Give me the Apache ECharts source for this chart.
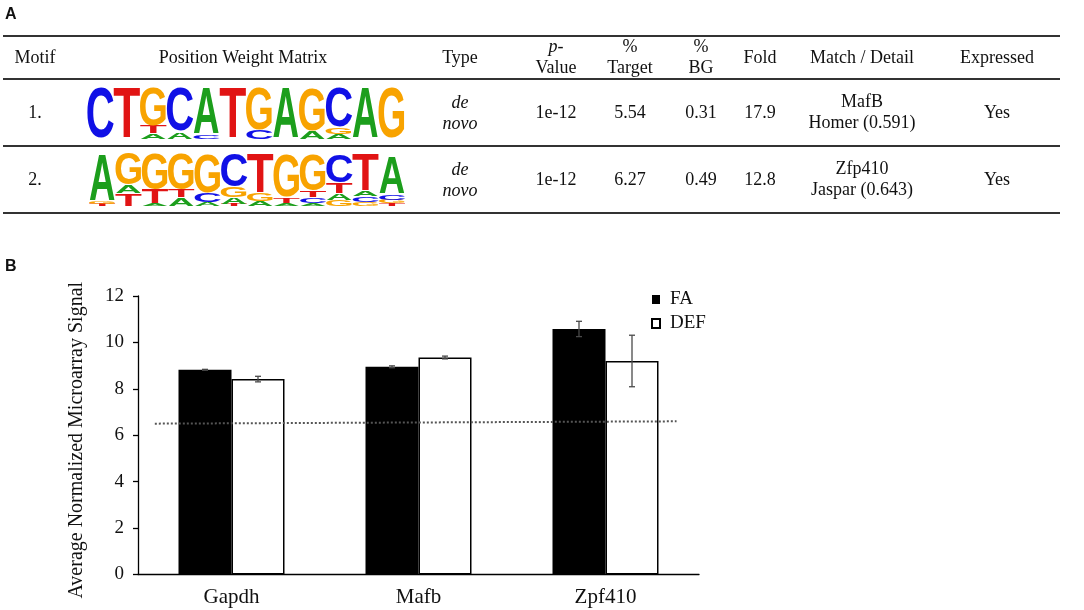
<!DOCTYPE html>
<html>
<head>
<meta charset="utf-8">
<script src="https://cdn.jsdelivr.net/npm/echarts@6/dist/echarts.min.js"></script>
<style>
html, body { margin: 0; padding: 0; background: #fff; }
#main { width: 1084px; height: 610px; }
</style>
</head>
<body>
<div id="main"></div>
<script>
// ---- panel A: motif table ----
var headers = [['Motif'], ['Position Weight Matrix'], ['Type'], ['p-', 'Value'], ['%', 'Target'], ['%', 'BG'], ['Fold'], ['Match / Detail'], ['Expressed']];
var motifNo = ['1.', '2.'];
var motifType = [['de', 'novo'], ['de', 'novo']];
var pValues = ['1e-12', '1e-12'];
var pctTarget = ['5.54', '6.27'];
var pctBG = ['0.31', '0.49'];
var foldEnrich = ['17.9', '12.8'];
var matchName = ['MafB', 'Zfp410'];
var matchDetail = ['Homer (0.591)', 'Jaspar (0.643)'];
var expressed = ['Yes', 'Yes'];

// logo stacks, bottom -> top, letter height as share of column
var logo1 = [
    [['C', 1]],
    [['T', 1]],
    [['A', 0.11], ['T', 0.15], ['G', 0.74]],
    [['A', 0.14], ['C', 0.86]],
    [['C', 0.08], ['A', 0.92]],
    [['T', 1]],
    [['C', 0.18], ['G', 0.82]],
    [['A', 1]],
    [['A', 0.16], ['G', 0.84]],
    [['A', 0.1], ['G', 0.13], ['C', 0.77]],
    [['A', 1]],
    [['G', 1]]
];
var logo2 = [
    [['T', 0.04], ['G', 0.05], ['A', 0.9]],
    [['T', 0.24], ['A', 0.16], ['G', 0.6]],
    [['A', 0.04], ['T', 0.27], ['G', 0.68]],
    [['A', 0.16], ['T', 0.14], ['G', 0.68]],
    [['A', 0.08], ['C', 0.17], ['G', 0.74]],
    [['T', 0.04], ['A', 0.13], ['G', 0.19], ['C', 0.63]],
    [['A', 0.1], ['G', 0.14], ['T', 0.76]],
    [['A', 0.06], ['T', 0.1], ['G', 0.82]],
    [['A', 0.06], ['C', 0.1], ['T', 0.13], ['G', 0.69]],
    [['G', 0.12], ['A', 0.13], ['T', 0.19], ['C', 0.53]],
    [['G', 0.08], ['C', 0.1], ['A', 0.1], ['T', 0.72]],
    [['T', 0.05], ['G', 0.07], ['C', 0.1], ['A', 0.72]]
];

// ---- panel B: microarray signal ----
var genes = ['Gapdh', 'Mafb', 'Zpf410'];
var faMean = [8.82, 8.95, 10.58];
var faErr = [0.02, 0.04, 0.33];
var defMean = [8.42, 9.35, 9.2];
var defErr = [0.12, 0.06, 1.11];
var cutoff = [[0.09, 6.5], [2.88, 6.6]];

var LETTERS = 'ACGT';
var LETTER_COLORS = ['#1c9e1c', '#1010e6', '#f8a300', '#e11414'];
var LETTER_INK = [0.70, 0.64, 0.68, 0.58];
var BAR_W = 53;
var SERIF = '"Liberation Serif", "Times New Roman", serif';

var colX = [35, 243, 460, 556, 630, 701, 760, 862, 997];
var ruleY = [36, 79, 146, 213];
var rowY = [112.5, 179.5];

function txt(s, x, y, italic) {
    return {
        type: 'text', x: x, y: y, silent: true,
        style: {
            text: s, fill: '#111',
            font: (italic ? 'italic ' : '') + '18px ' + SERIF,
            align: 'center', verticalAlign: 'middle',
            textAlign: 'center', textVerticalAlign: 'middle'
        }
    };
}
function twoLine(a, b, x, y, italicA, italicB) {
    return [txt(a, x, y - 10.5, italicA), txt(b, x, y + 10.5, italicB)];
}

var graphics = [];
ruleY.forEach(function(y) {
    graphics.push({ type: 'line', silent: true, shape: { x1: 3, y1: y, x2: 1060, y2: y }, style: { stroke: '#333', lineWidth: 2 } });
});
headers.forEach(function(h, i) {
    if (h.length == 1) graphics.push(txt(h[0], colX[i], 58));
    else graphics = graphics.concat(twoLine(h[0], h[1], colX[i], 58, i == 3, false));
});
for (var r = 0; r < motifNo.length; r++) {
    var y = rowY[r];
    graphics.push(txt(motifNo[r], colX[0], y + 1));
    graphics = graphics.concat(twoLine(motifType[r][0], motifType[r][1], colX[2], y + 1, true, true));
    graphics.push(txt(pValues[r], colX[3], y + 1));
    graphics.push(txt(pctTarget[r], colX[4], y + 1));
    graphics.push(txt(pctBG[r], colX[5], y + 1));
    graphics.push(txt(foldEnrich[r], colX[6], y + 1));
    graphics = graphics.concat(twoLine(matchName[r], matchDetail[r], colX[7], y, false, false));
    graphics.push(txt(expressed[r], colX[8], y + 1));
}
['A', 'B'].forEach(function(s, i) {
    graphics.push({
        type: 'text', x: 5, y: i == 0 ? 15 : 267, silent: true,
        style: { text: s, fill: '#111', font: 'bold 16px "Liberation Sans", Arial, sans-serif', verticalAlign: 'middle', textVerticalAlign: 'middle' }
    });
});

function logoData(stacks) {
    var out = [];
    stacks.forEach(function(col, i) {
        var base = 0;
        col.forEach(function(p) {
            out.push([i, base, base + p[1], LETTERS.indexOf(p[0])]);
            base += p[1];
        });
    });
    return out;
}

function renderLetter(params, api) {
    var col = api.value(0), y0 = api.value(1), y1 = api.value(2), li = api.value(3);
    var bot = api.coord([col, y0]);
    var top = api.coord([col, y1]);
    var w = api.size([1, 0])[0] * 0.97;
    var h = bot[1] - top[1];
    if (h < 0.5) return;
    var F = 100;
    var sy = h / (0.716 * F);
    return {
        type: 'text',
        x: bot[0], y: (bot[1] + top[1]) / 2 + 0.06 * F * sy,
        scaleX: w / (LETTER_INK[li] * F),
        scaleY: sy,
        style: {
            text: LETTERS[li], x: 0, y: 0,
            fontSize: F, fontWeight: 'bold', fontFamily: '"Liberation Sans", Arial, sans-serif',
            fill: LETTER_COLORS[li],
            align: 'center', verticalAlign: 'middle',
            textAlign: 'center', textVerticalAlign: 'middle'
        }
    };
}

function errRender(sign) {
    return function(params, api) {
        var xi = api.value(0), m = api.value(1), e = api.value(2);
        var c = api.coord([xi, m]);
        var x = c[0] + sign * BAR_W / 2;
        var yT = api.coord([xi, m + e])[1];
        var yB = api.coord([xi, m - e])[1];
        var st = { stroke: '#4a4a4a', lineWidth: 1.3 };
        return {
            type: 'group',
            children: [
                { type: 'line', shape: { x1: x, y1: yT, x2: x, y2: yB }, style: st },
                { type: 'line', shape: { x1: x - 3, y1: yT, x2: x + 3, y2: yT }, style: st },
                { type: 'line', shape: { x1: x - 3, y1: yB, x2: x + 3, y2: yB }, style: st }
            ]
        };
    };
}

var idx12 = [0, 1, 2, 3, 4, 5, 6, 7, 8, 9, 10, 11];

var myChart = echarts.init(document.getElementById('main'));
var option = {
    animation: false,
    backgroundColor: '#fff',
    graphic: graphics,
    legend: {
        data: ['FA', 'DEF'],
        orient: 'vertical',
        left: 646, top: 282.5,
        icon: 'rect',
        itemWidth: 8, itemHeight: 9, itemGap: 0,
        textStyle: { fontFamily: SERIF, fontSize: 19, color: '#111', lineHeight: 24, padding: [0, 0, 0, 5] }
    },
    grid: [
        { left: 138, top: 296, width: 561, height: 278.5 },
        { left: 87, top: 88, width: 318, height: 51 },
        { left: 89, top: 154, width: 316, height: 52 }
    ],
    xAxis: [
        {
            type: 'category', gridIndex: 0, data: genes,
            axisLine: { lineStyle: { color: '#000', width: 1.3 } },
            axisTick: { show: false },
            axisLabel: { fontFamily: SERIF, fontSize: 21, color: '#111', margin: 12 }
        },
        { type: 'value', gridIndex: 0, min: 0, max: 3, show: false },
        { type: 'category', gridIndex: 1, data: idx12, show: false },
        { type: 'category', gridIndex: 2, data: idx12, show: false }
    ],
    yAxis: [
        {
            type: 'value', gridIndex: 0, min: 0, max: 12, interval: 2,
            name: 'Average Normalized Microarray Signal',
            nameLocation: 'middle', nameGap: 51,
            nameTextStyle: { fontFamily: SERIF, fontSize: 20, color: '#111', padding: [0, 10, 0, 0] },
            axisLine: { show: true, lineStyle: { color: '#000', width: 1.3 } },
            axisTick: { show: true, length: 5, lineStyle: { color: '#000', width: 1.3 } },
            splitLine: { show: false },
            axisLabel: { fontFamily: SERIF, fontSize: 19, color: '#111', margin: 14 }
        },
        { type: 'value', gridIndex: 1, min: 0, max: 1, show: false },
        { type: 'value', gridIndex: 2, min: 0, max: 1, show: false }
    ],
    series: [
        {
            name: 'FA', type: 'bar', xAxisIndex: 0, yAxisIndex: 0,
            barWidth: BAR_W, barGap: '0%', data: faMean,
            itemStyle: { color: '#000' }
        },
        {
            name: 'DEF', type: 'bar', xAxisIndex: 0, yAxisIndex: 0,
            barWidth: BAR_W, barGap: '0%', data: defMean,
            itemStyle: { color: '#fff', borderColor: '#000', borderWidth: 1.5 }
        },
        {
            type: 'custom', xAxisIndex: 0, yAxisIndex: 0, z: 5, silent: true,
            renderItem: errRender(-1),
            data: faMean.map(function(v, i) { return [i, v, faErr[i]]; })
        },
        {
            type: 'custom', xAxisIndex: 0, yAxisIndex: 0, z: 5, silent: true,
            renderItem: errRender(1),
            data: defMean.map(function(v, i) { return [i, v, defErr[i]]; })
        },
        {
            type: 'line', xAxisIndex: 1, yAxisIndex: 0, z: 6, silent: true,
            data: cutoff, symbol: 'none',
            lineStyle: { color: '#555', width: 2, type: 'dotted' }
        },
        {
            type: 'custom', xAxisIndex: 2, yAxisIndex: 1, silent: true, clip: false,
            renderItem: renderLetter, data: logoData(logo1)
        },
        {
            type: 'custom', xAxisIndex: 3, yAxisIndex: 2, silent: true, clip: false,
            renderItem: renderLetter, data: logoData(logo2)
        }
    ]
};
myChart.setOption(option);
</script>
</body>
</html>
